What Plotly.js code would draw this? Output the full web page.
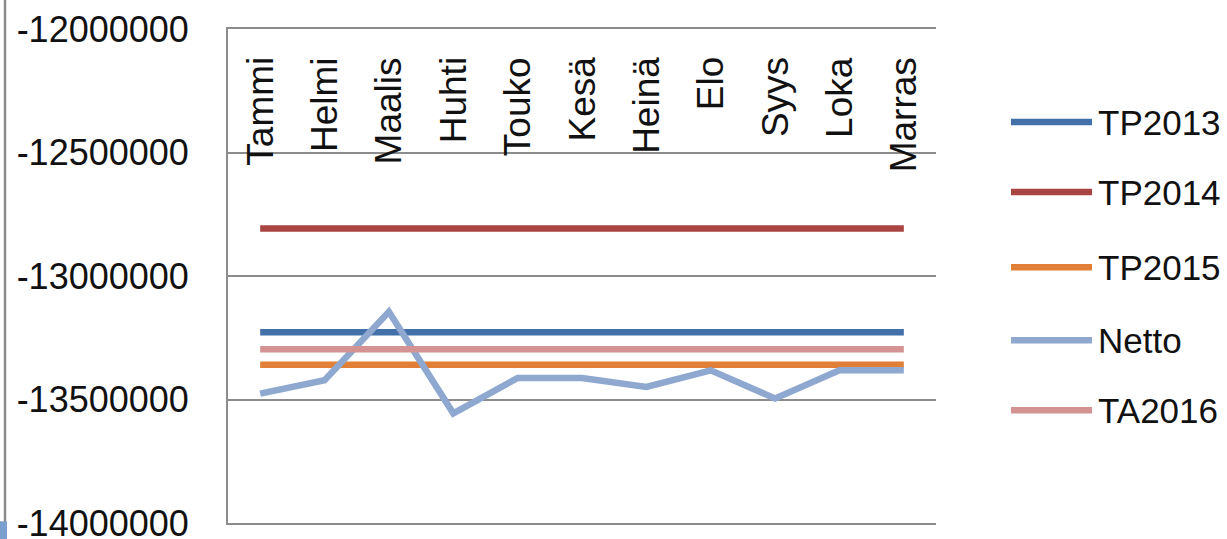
<!DOCTYPE html>
<html>
<head>
<meta charset="utf-8">
<script src="https://cdn.plot.ly/plotly-3.0.1.min.js"></script>
<style>html,body{margin:0;padding:0;background:#fff;}#chart{width:1227px;height:539px;}</style>
</head>
<body>
<div id="chart"></div>
<script>
const months = ["Tammi","Helmi","Maalis","Huhti","Touko","Kesä","Heinä","Elo","Syys","Loka","Marras"];
const seriesNames = ["TP2013","TP2014","TP2015","Netto","TA2016"];
const tp2013 = [-13228000,-13228000,-13228000,-13228000,-13228000,-13228000,-13228000,-13228000,-13228000,-13228000,-13228000];
const tp2014 = [-12808000,-12808000,-12808000,-12808000,-12808000,-12808000,-12808000,-12808000,-12808000,-12808000,-12808000];
const tp2015 = [-13359000,-13359000,-13359000,-13359000,-13359000,-13359000,-13359000,-13359000,-13359000,-13359000,-13359000];
const netto  = [-13476000,-13422000,-13145000,-13556000,-13413000,-13413000,-13449000,-13382000,-13496000,-13382000,-13382000];
const ta2016 = [-13297000,-13297000,-13297000,-13297000,-13297000,-13297000,-13297000,-13297000,-13297000,-13297000,-13297000];
const yTicks = [-14000000,-13500000,-13000000,-12500000,-12000000];

const FONT = "Liberation Sans, Arial, sans-serif";
const colors = ["#4270A8","#A84442","#E07F35","#8EA8D0","#D49292"];
const values = [tp2013, tp2014, tp2015, netto, ta2016];

// plot geometry (pixels) for placing the hand-drawn legend
const L = 228, W = 708, B = 522.7, H = 493.7;
const px = v => (v - L) / W;
const py = v => (B - v) / H;
const legendRowY = [122, 192, 267, 340, 410];

const data = seriesNames.map((n, i) => ({
  type:"scatter", mode:"lines", name:n, x:months, y:values[i],
  line:{color:colors[i], width:6.5}, hoverinfo:"skip", showlegend:false
}));

const shapes = [
  {type:"line", xref:"paper", yref:"paper", x0:px(5), x1:px(5), y0:py(545), y1:py(-5),
   line:{color:"#8c8c8c", width:2.5}},
  {type:"rect", xref:"paper", yref:"paper", x0:px(-2), x1:px(7), y0:py(545), y1:py(521),
   fillcolor:"#7BA0D0", line:{width:0}}
];
const annotations = [];
seriesNames.forEach((n, i) => {
  shapes.push({type:"line", xref:"paper", yref:"paper", x0:px(1011), x1:px(1092),
               y0:py(legendRowY[i]), y1:py(legendRowY[i]), line:{color:colors[i], width:6.5}});
  annotations.push({xref:"paper", yref:"paper", x:px(1096), y:py(legendRowY[i]),
                    xanchor:"left", yanchor:"middle", showarrow:false, text:n,
                    font:{family:FONT, size:35, color:"#111"}});
});
months.forEach(m => {
  annotations.push({xref:"x", yref:"paper", x:m, y:1, yshift:-26, xanchor:"center",
                    yanchor:"top", textangle:-90, showarrow:false, text:m,
                    font:{family:FONT, size:37, color:"#111"}});
});

const layout = {
  width:1227, height:539,
  margin:{l:L, r:1227-L-W, t:29, b:16, pad:0},
  paper_bgcolor:"#fff", plot_bgcolor:"#fff",
  showlegend:false,
  font:{family:FONT, color:"#111", size:35},
  xaxis:{type:"category", categoryorder:"array", categoryarray:months,
         range:[-0.5,10.5], showticklabels:false,
         showgrid:false, zeroline:false, showline:true, mirror:true,
         linecolor:"#8c8c8c", linewidth:2, ticks:"", fixedrange:true},
  yaxis:{range:[-14000000,-12000000], tickvals:yTicks, ticktext:yTicks.map(String),
         showgrid:true, gridcolor:"#8c8c8c", gridwidth:2, zeroline:false,
         showline:true, linecolor:"#8c8c8c", linewidth:2, ticks:"",
         ticklabelstandoff:30, ticklabeloverflow:"allow",
         tickfont:{family:FONT, size:36, color:"#111"}, fixedrange:true},
  shapes:shapes,
  annotations:annotations
};
Plotly.newPlot("chart", data, layout, {displayModeBar:false, staticPlot:true});
</script>
</body>
</html>
